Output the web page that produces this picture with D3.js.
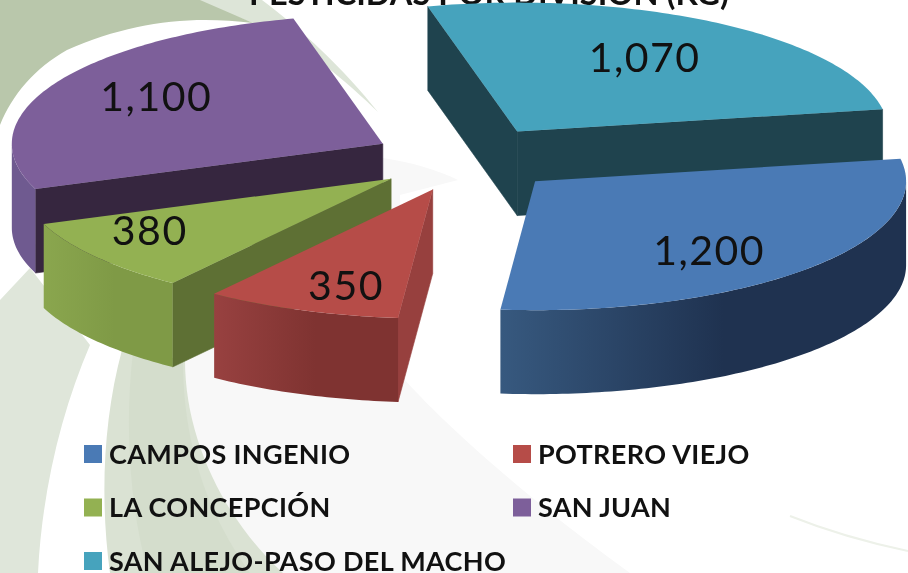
<!DOCTYPE html>
<html>
<head>
<meta charset="utf-8">
<title>Pesticidas por división</title>
<script src="https://cdn.jsdelivr.net/npm/d3@7"></script>
<style>
  html, body { margin: 0; padding: 0; background: #fff; overflow: hidden; }
  svg { filter: blur(0.45px); }
  text { font-family: Lato, "Open Sans", sans-serif; fill: #111; }
</style>
</head>
<body>
<div id="chart"></div>
<script>
// data, in the order the pie goes round (clockwise)
var divisions = ["CAMPOS INGENIO", "POTRERO VIEJO", "LA CONCEPCIÓN", "SAN JUAN", "SAN ALEJO-PASO DEL MACHO"];
var kilos = [1200, 350, 380, 1100, 1070];
var valueLabels = ["1,200", "350", "380", "1,100", "1,070"];
var titleText = "PESTICIDAS POR DIVISIÓN (KG)";

var topColors = ["#4a7ab5", "#b64c48", "#93b152", "#7d5f9a", "#46a3bd"];
var edgeColors = ["#1f3250", "#97403e", "#5e7034", "#36263f", "#1f434e"];
var wallLeft = ["#37597f", "#984140", "#8aa64e", "#6f5a90", "#1f434e"];
var wallRight = ["#1f3250", "#7f3331", "#7f9a46", "#6f5a90", "#1f434e"];
var labelPullX = [0.638, 0.66, 0.817, 0.69, 0.63];
var labelPullY = [0.8, 0.795, 0.665, 0.78, 0.68];
var paintOrder = [4, 3, 2, 1, 0];

var width = 908, height = 573;
var cx = 466, cy = 159, rx = 371, ry = 129, depth = 84, explode = 94;

var svg = d3.select("#chart").append("svg")
  .attr("width", width)
  .attr("height", height)
  .style("display", "block");

var defs = svg.append("defs");

// swirl in the slide background
var swirl = svg.append("g");
swirl.append("path").attr("fill", "#dde5d8")
  .attr("d", "M195,0 L262,0 C300,28 345,70 378,112 C350,85 300,40 253,23 Z");
swirl.append("path").attr("fill", "#b9c7ab")
  .attr("d", "M0,0 L200,0 L253,23 C190,15 130,22 67,50 C35,68 12,95 0,125 Z");
swirl.append("path").attr("fill", "#dfe6da")
  .attr("d", "M0,300 L30,268 L90,345 C62,410 42,490 38,573 L0,573 Z");
swirl.append("path").attr("fill", "#f8f8f8")
  .attr("d", "M383,158 C410,162 438,170 458,180 L400,195 L405,380 C445,425 535,505 630,573 L283,573 C235,530 195,480 183,363 Z");
swirl.append("path").attr("fill", "#dae2d3")
  .attr("d", "M122,350 L185,360 C185,440 225,520 283,573 L110,573 C100,500 103,420 122,350 Z");
swirl.append("path").attr("fill", "#d4ddcc")
  .attr("d", "M133,352 L183,360 C183,440 205,510 250,573 L148,573 C128,500 125,420 133,352 Z");
swirl.append("path").attr("fill", "none").attr("stroke", "#edf1e9").attr("stroke-width", 2)
  .attr("d", "M790,516 C830,532 870,543 908,551");

// title sits mostly above the top of the picture
svg.append("text")
  .attr("x", 489)
  .attr("y", 5)
  .attr("text-anchor", "middle")
  .attr("font-size", 32.5)
  .attr("font-weight", 700)
  .text(titleText);

var pie = d3.pie().sort(null).startAngle(80 * Math.PI / 180).endAngle(440 * Math.PI / 180);
var slices = pie(kilos);
var line = d3.line();

function point(o, a) {
  return [o[0] + rx * Math.sin(a), o[1] - ry * Math.cos(a)];
}

function arcPoints(o, a0, a1) {
  var n = Math.max(2, Math.ceil((a1 - a0) * 60));
  return d3.range(n + 1).map(function(i) {
    return point(o, a0 + (a1 - a0) * i / n);
  });
}

function drop(p) {
  return [p[0], p[1] + depth];
}

function wallPath(pts) {
  return line(pts.concat(pts.map(drop).reverse())) + "Z";
}

var pieGroup = svg.append("g");

paintOrder.forEach(function(i) {
  var d = slices[i];
  var mid = (d.startAngle + d.endAngle) / 2;
  // explode moves the slice along its own angle on the tilted plane
  var apex = [cx + explode * Math.sin(mid), cy - explode * (ry / rx) * Math.cos(mid)];

  var g = pieGroup.append("g").attr("class", "slice");
  var start = point(apex, d.startAngle);
  var end = point(apex, d.endAngle);
  var middle = point(apex, mid);

  // radial walls, only the ones facing down show
  [start, end].forEach(function(p) {
    var t = (middle[0] - apex[0]) / (p[0] - apex[0]);
    var lineY = apex[1] + t * (p[1] - apex[1]);
    if (lineY < middle[1]) return;
    g.append("path")
      .attr("d", wallPath([apex, p]))
      .attr("fill", edgeColors[i])
      .attr("stroke", edgeColors[i])
      .attr("stroke-width", 0.6);
  });

  // outer wall, only the front half of the rim
  var front0 = Math.PI / 2, front1 = 3 * Math.PI / 2;
  var from = Math.max(d.startAngle, front0), to = Math.min(d.endAngle, front1);
  if (to > from) {
    var rim = arcPoints(apex, from, to);
    var xs = d3.extent(rim, function(p) { return p[0]; });
    var gradId = "rim" + i;
    var grad = defs.append("linearGradient")
      .attr("id", gradId)
      .attr("gradientUnits", "userSpaceOnUse")
      .attr("x1", xs[0]).attr("x2", xs[1])
      .attr("y1", 0).attr("y2", 0);
    grad.append("stop").attr("offset", 0).attr("stop-color", wallLeft[i]);
    grad.append("stop").attr("offset", 0.55).attr("stop-color", wallRight[i]);
    g.append("path")
      .attr("d", wallPath(rim))
      .attr("fill", "url(#" + gradId + ")");
  }

  // top face
  g.append("path")
    .attr("d", line([apex].concat(arcPoints(apex, d.startAngle, d.endAngle))) + "Z")
    .attr("fill", topColors[i]);

  g.append("text")
    .attr("x", apex[0] + labelPullX[i] * rx * Math.sin(mid))
    .attr("y", apex[1] - labelPullY[i] * ry * Math.cos(mid))
    .attr("dy", "0.35em")
    .attr("text-anchor", "middle")
    .attr("font-size", 41)
    .attr("letter-spacing", 1.5)
    .text(valueLabels[i]);
});

// legend, two columns filled row by row
var legendCol = d3.scalePoint().domain([0, 1]).range([84, 513]);
var legendRow = d3.scalePoint().domain([0, 1, 2]).range([454, 561]);

var legend = svg.selectAll(".legend")
  .data(divisions)
  .enter().append("g")
  .attr("class", "legend")
  .attr("transform", function(d, i) {
    return "translate(" + legendCol(i % 2) + "," + legendRow(Math.floor(i / 2)) + ")";
  });

legend.append("rect")
  .attr("y", -9)
  .attr("width", 18)
  .attr("height", 18)
  .attr("fill", function(d, i) { return topColors[i]; });

legend.append("text")
  .attr("x", 25)
  .attr("dy", "0.36em")
  .attr("font-size", 27)
  .attr("font-weight", 700)
  .attr("letter-spacing", 0.35)
  .text(function(d) { return d; });
</script>
</body>
</html>
